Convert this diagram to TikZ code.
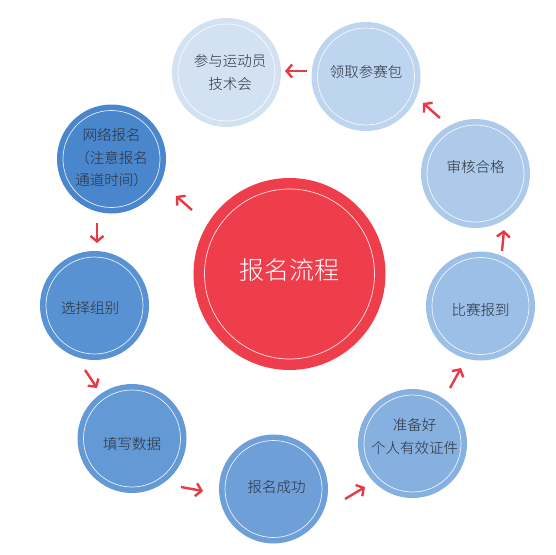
\documentclass[tikz,border=0pt]{standalone}
\usepackage{fontspec}
\newfontfamily\cjk{Noto Sans CJK SC Light}
\usetikzlibrary{arrows.meta,calc}
\definecolor{cA}{HTML}{4A86CC}
\definecolor{cB}{HTML}{5892D2}
\definecolor{cC}{HTML}{6399D5}
\definecolor{cD}{HTML}{6E9FD8}
\definecolor{cE}{HTML}{86B0E0}
\definecolor{cF}{HTML}{9BBFE6}
\definecolor{cG}{HTML}{ADCAEA}
\definecolor{cH}{HTML}{BDD5EF}
\definecolor{cI}{HTML}{D2E2F3}
\definecolor{cR}{HTML}{EF3E4B}
\definecolor{arrred}{HTML}{E83A45}
\definecolor{txt}{HTML}{2B2F38}
\begin{document}
\begin{tikzpicture}[x=1pt,y=-1pt,
  bub/.style={circle, inner sep=0pt, minimum size=109pt, draw=none},
  ring/.style={draw=white, line width=0.7pt, opacity=0.85},
  lbl/.style={font=\cjk\fontsize{14.5}{22.5}\selectfont, text=txt, align=center, inner sep=0pt},
  arr/.style={draw=arrred, line width=2.4pt, -{Straight Barb[length=5.5pt,width=13pt]}}]
\fill[white] (0,0) rectangle (556,554);
\useasboundingbox (0,0) rectangle (556,554);
% bubbles
\node[bub, fill=cR, minimum size=192pt] (R) at (289.5,274) {};
\node[bub, fill=cA] (A) at (111.5,159) {};
\node[bub, fill=cB] (B) at (94.5,305.5) {};
\node[bub, fill=cC] (C) at (132,438.5) {};
\node[bub, fill=cD] (D) at (273.5,489) {};
\node[bub, fill=cE] (E) at (412.5,443.5) {};
\node[bub, fill=cF] (F) at (480.5,306) {};
\node[bub, fill=cG] (G) at (475.5,173.5) {};
\node[bub, fill=cH] (H) at (366,76.5) {};
\node[bub, fill=cI] (I) at (226.5,72.5) {};
% rings
\draw[ring] (R.center) circle[radius=85pt];
\foreach \n in {A,B,C,D,E,F,G,H,I}{\draw[ring] (\n.center) circle[radius=48.5pt];}
% labels
\node[lbl] (tA) at (111.5,158) {网络报名\\（注意报名\\通道时间）};
\node[lbl] (tB) at (90,308) {选择组别};
\node[lbl] (tC) at (132,444) {填写数据};
\node[lbl] (tD) at (276.5,487) {报名成功};
\node[lbl] (tE) at (414.5,436.5) {准备好\\个人有效证件};
\node[lbl] (tF) at (480.5,310) {比赛报到};
\node[lbl] (tG) at (475.5,167) {审核合格};
\node[lbl] (tH) at (366,72) {领取参赛包};
\node[lbl] (tI) at (230,72.5) {参与运动员\\技术会};
\node[lbl, text=white, font=\cjk\fontsize{25}{30}\selectfont] (tR) at (289,270) {报名流程};
% arrows
\coordinate (a1s) at (192,210); \coordinate (a1e) at (176,196);
\coordinate (a2s) at (97,223);  \coordinate (a2e) at (97,243);
\coordinate (a3s) at (85,370);  \coordinate (a3e) at (97,388);
\coordinate (a4s) at (181,487); \coordinate (a4e) at (203,491);
\coordinate (a5s) at (345,499); \coordinate (a5e) at (365,487);
\coordinate (a6s) at (450,388); \coordinate (a6e) at (461,368);
\coordinate (a7s) at (502,251); \coordinate (a7e) at (504,230);
\coordinate (a8s) at (440,118); \coordinate (a8e) at (423,103);
\coordinate (a9s) at (307,71);  \coordinate (a9e) at (285,71);
\foreach \i in {1,...,9}{\draw[arr] (a\i s) -- (a\i e);}
\end{tikzpicture}
\end{document}
